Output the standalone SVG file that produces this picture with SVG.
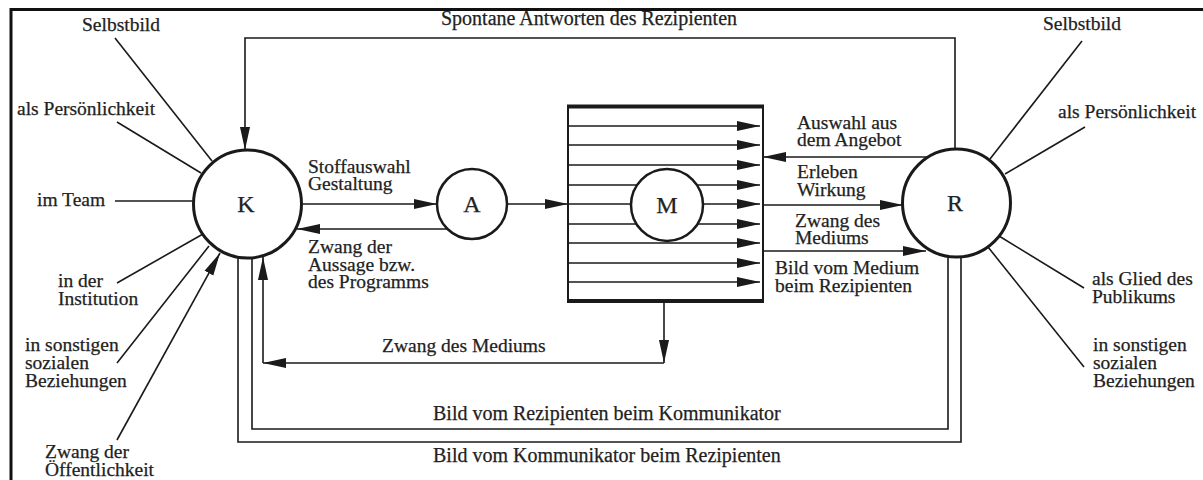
<svg xmlns="http://www.w3.org/2000/svg" width="1203" height="480" viewBox="0 0 1203 480">
<style>
text{font-family:"Liberation Serif","Times New Roman",serif;font-size:19.5px;fill:#222;stroke:#222;stroke-width:0.25}
.ln{stroke:#1a1a1a;stroke-width:1.6;fill:none}
.arr{stroke:#1a1a1a;stroke-width:1.6;fill:none;marker-end:url(#ah)}
.node{fill:#fff;stroke:#1a1a1a}
.lbl{font-size:20px}
.big{font-size:24px;text-anchor:middle}
</style>
<defs>
<marker id="ah" markerUnits="userSpaceOnUse" markerWidth="23" markerHeight="12" viewBox="0 0 23 12" refX="23" refY="6" orient="auto">
<path d="M0,1 L23,6 L0,11 Z" fill="#1a1a1a"/>
</marker>
</defs>
<rect width="1203" height="480" fill="#fff"/>
<g id="frame">
<path d="M11,480 V9.5 H1203" fill="none" stroke="#111" stroke-width="3"/>
</g>
<g id="connectors">
<line class="ln" x1="115" y1="38" x2="212" y2="161"/>
<line class="ln" x1="117" y1="122" x2="201" y2="173"/>
<line class="ln" x1="115" y1="201" x2="194" y2="201"/>
<line class="ln" x1="117" y1="283" x2="203" y2="234"/>
<line class="ln" x1="117" y1="363" x2="209" y2="246"/>
<line class="arr" x1="117" y1="440" x2="220" y2="253"/>
<line class="ln" x1="1082" y1="41" x2="990" y2="159"/>
<line class="ln" x1="1085" y1="127" x2="1005" y2="174"/>
<line class="ln" x1="1084" y1="288" x2="999" y2="236"/>
<line class="ln" x1="1084" y1="367" x2="988" y2="247"/>
<polyline class="arr" points="955,149 955,38 245,38 245,150"/>
<line class="arr" x1="301" y1="204" x2="437" y2="204"/>
<line class="arr" x1="447" y1="229" x2="297" y2="229"/>
<line class="arr" x1="507" y1="204" x2="568" y2="204"/>
<line class="arr" x1="928" y1="157" x2="763" y2="157"/>
<line class="arr" x1="763" y1="205" x2="903" y2="205"/>
<line class="arr" x1="763" y1="251" x2="926" y2="251"/>
<line class="arr" x1="664" y1="302" x2="664" y2="363"/>
<line class="arr" x1="664" y1="363" x2="263" y2="363"/>
<line class="arr" x1="263" y1="363" x2="263" y2="257"/>
<polyline class="ln" points="948,256 948,429 252,429 252,257"/>
<polyline class="ln" points="238,255 238,442 961,442 961,257"/>
</g>
<g id="medium">
<rect x="568" y="106" width="195" height="196" fill="#fff" stroke="#1a1a1a" stroke-width="2"/>
<line x1="567" y1="106.5" x2="764" y2="106.5" stroke="#1a1a1a" stroke-width="4"/>
<line x1="567" y1="301" x2="764" y2="301" stroke="#1a1a1a" stroke-width="4"/>
<line class="arr" x1="569" y1="126" x2="760" y2="126"/>
<line class="arr" x1="569" y1="145" x2="760" y2="145"/>
<line class="arr" x1="569" y1="165" x2="760" y2="165"/>
<line class="arr" x1="569" y1="185" x2="760" y2="185"/>
<line class="arr" x1="569" y1="204" x2="760" y2="204"/>
<line class="arr" x1="569" y1="224" x2="760" y2="224"/>
<line class="arr" x1="569" y1="243" x2="760" y2="243"/>
<line class="arr" x1="569" y1="263" x2="760" y2="263"/>
<line class="arr" x1="569" y1="282" x2="760" y2="282"/>
</g>
<g id="M">
<circle class="node" cx="667" cy="205" r="36" stroke-width="2.5"/>
<text class="big" x="667" y="213">M</text>
</g>
<g id="K">
<circle class="node" cx="247.5" cy="204" r="54" stroke-width="3"/>
<text class="big" x="246" y="212">K</text>
</g>
<g id="A">
<circle class="node" cx="472" cy="204" r="35" stroke-width="2.5"/>
<text class="big" x="472" y="212">A</text>
</g>
<g id="R">
<circle class="node" cx="956.5" cy="203" r="54" stroke-width="3"/>
<text class="big" x="955" y="211">R</text>
</g>
<g id="labels-K">
<text x="82" y="31">Selbstbild</text>
<text x="17" y="115">als Persönlichkeit</text>
<text x="37" y="206">im Team</text>
<text x="58" y="287">in der<tspan x="58" dy="18">Institution</tspan></text>
<text x="25" y="351">in sonstigen<tspan x="25" dy="18">sozialen</tspan><tspan x="25" dy="18">Beziehungen</tspan></text>
<text x="45" y="458">Zwang der<tspan x="45" dy="18">Öffentlichkeit</tspan></text>
</g>
<g id="labels-R">
<text x="1043" y="30">Selbstbild</text>
<text x="1058" y="118">als Persönlichkeit</text>
<text x="1092" y="285">als Glied des<tspan x="1092" dy="18">Publikums</tspan></text>
<text x="1093" y="351">in sonstigen<tspan x="1093" dy="18">sozialen</tspan><tspan x="1093" dy="18">Beziehungen</tspan></text>
</g>
<g id="labels-connectors">
<text class="lbl" x="441" y="25">Spontane Antworten des Rezipienten</text>
<text x="308" y="173">Stoffauswahl<tspan x="308" dy="17">Gestaltung</tspan></text>
<text x="308" y="253">Zwang der<tspan x="308" dy="18">Aussage bzw.</tspan><tspan x="308" dy="17">des Programms</tspan></text>
<text x="797" y="129">Auswahl aus<tspan x="797" dy="17">dem Angebot</tspan></text>
<text x="797" y="178">Erleben<tspan x="797" dy="18">Wirkung</tspan></text>
<text x="795" y="227">Zwang des<tspan x="795" dy="17">Mediums</tspan></text>
<text x="775" y="274">Bild vom Medium<tspan x="775" dy="18">beim Rezipienten</tspan></text>
<text x="382" y="352">Zwang des Mediums</text>
<text class="lbl" x="433" y="420">Bild vom Rezipienten beim Kommunikator</text>
<text class="lbl" x="433" y="462">Bild vom Kommunikator beim Rezipienten</text>
</g>
</svg>
